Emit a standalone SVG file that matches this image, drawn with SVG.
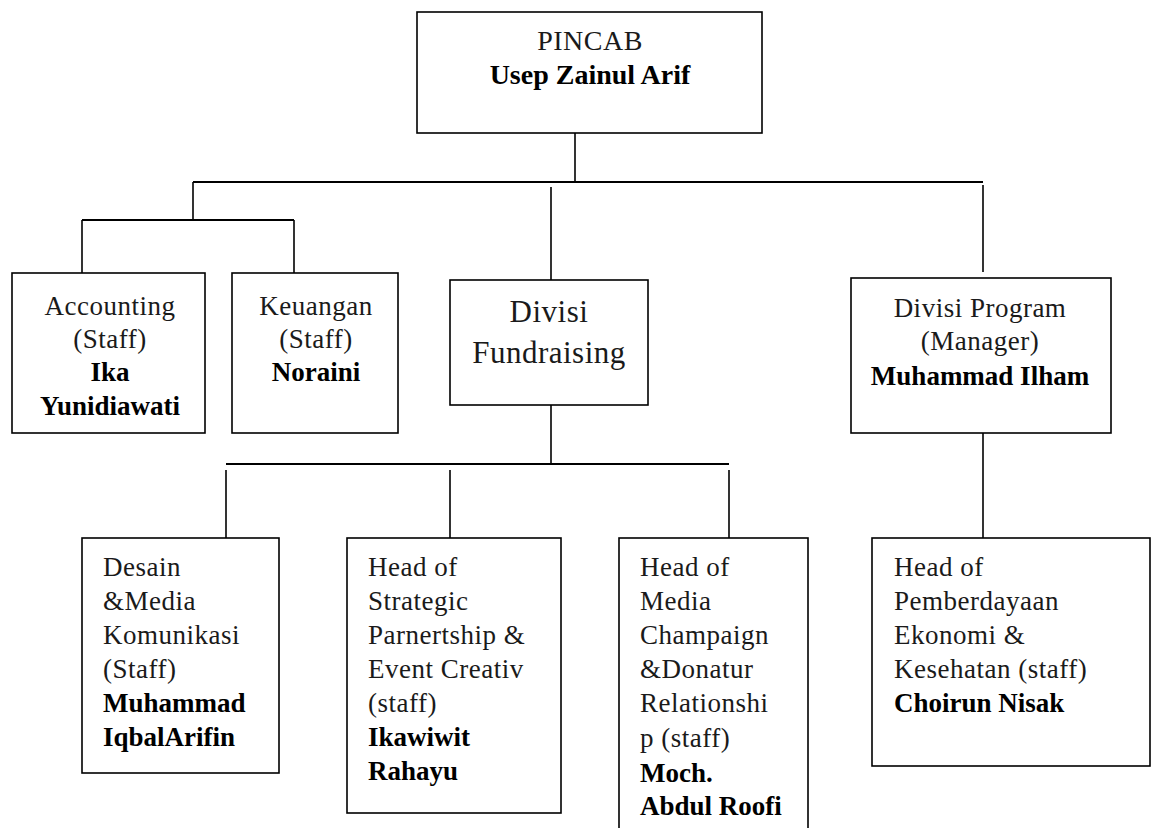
<svg xmlns="http://www.w3.org/2000/svg" width="1155" height="828" viewBox="0 0 1155 828">
<style>
.box{fill:#fff;stroke:#000;stroke-width:1.6}
.ln{stroke:#000;stroke-width:1.6;fill:none}
.hl{stroke:#000;stroke-width:2.2;fill:none}
text{font-family:"Liberation Serif","Times New Roman",serif;font-size:27px;fill:#1a1a1a;letter-spacing:0.5px}
.c{text-anchor:middle}
.nm{font-weight:bold;fill:#000;letter-spacing:0}
.big{font-size:31px}
</style>
<rect width="1155" height="828" fill="#fff"/>
<g id="connectors">
<line class="ln" x1="575" y1="133" x2="575" y2="182"/>
<line class="hl" x1="193" y1="182" x2="983" y2="182"/>
<line class="ln" x1="193" y1="182" x2="193" y2="220"/>
<line class="hl" x1="82" y1="220" x2="294" y2="220"/>
<line class="ln" x1="82" y1="220" x2="82" y2="273"/>
<line class="ln" x1="294" y1="220" x2="294" y2="273"/>
<line class="ln" x1="551" y1="187" x2="551" y2="280"/>
<line class="ln" x1="983" y1="185" x2="983" y2="272"/>
<line class="ln" x1="983" y1="433" x2="983" y2="538"/>
<line class="ln" x1="551" y1="405" x2="551" y2="464"/>
<line class="hl" x1="226" y1="464" x2="729" y2="464"/>
<line class="ln" x1="226" y1="470" x2="226" y2="538"/>
<line class="ln" x1="450" y1="470" x2="450" y2="538"/>
<line class="ln" x1="729" y1="470" x2="729" y2="538"/>
</g>
<g id="pincab">
<rect class="box" x="417" y="12" width="345" height="121"/>
<text class="c" x="590" y="50" style="font-size:28px">PINCAB</text>
<text class="c nm" x="590" y="84" style="font-size:28px">Usep Zainul Arif</text>
</g>
<g id="accounting">
<rect class="box" x="12" y="273" width="193" height="160"/>
<text class="c" x="110" y="315">Accounting</text>
<text class="c" x="110" y="348">(Staff)</text>
<text class="c nm" x="110" y="381">Ika</text>
<text class="c nm" x="110" y="415">Yunidiawati</text>
</g>
<g id="keuangan">
<rect class="box" x="232" y="273" width="166" height="160"/>
<text class="c" x="316" y="315">Keuangan</text>
<text class="c" x="316" y="348">(Staff)</text>
<text class="c nm" x="316" y="381">Noraini</text>
</g>
<g id="fundraising">
<rect class="box" x="450" y="280" width="198" height="125"/>
<text class="c big" x="549" y="322">Divisi</text>
<text class="c big" x="549" y="363">Fundraising</text>
</g>
<g id="program">
<rect class="box" x="851" y="278" width="260" height="155"/>
<text class="c" x="980" y="317">Divisi Program</text>
<text class="c" x="980" y="350">(Manager)</text>
<text class="c nm" x="980" y="385">Muhammad Ilham</text>
</g>
<g id="desain">
<rect class="box" x="82" y="538" width="197" height="235"/>
<text x="103" y="576">Desain</text>
<text x="103" y="610">&amp;Media</text>
<text x="103" y="644">Komunikasi</text>
<text x="103" y="678">(Staff)</text>
<text class="nm" x="103" y="712">Muhammad</text>
<text class="nm" x="103" y="746">IqbalArifin</text>
</g>
<g id="strategic">
<rect class="box" x="347" y="538" width="214" height="275"/>
<text x="368" y="576">Head of</text>
<text x="368" y="610">Strategic</text>
<text x="368" y="644">Parnertship &amp;</text>
<text x="368" y="678">Event Creativ</text>
<text x="368" y="712">(staff)</text>
<text class="nm" x="368" y="746">Ikawiwit</text>
<text class="nm" x="368" y="780">Rahayu</text>
</g>
<g id="media">
<rect class="box" x="619" y="538" width="189" height="310"/>
<text x="640" y="576">Head of</text>
<text x="640" y="610">Media</text>
<text x="640" y="644">Champaign</text>
<text x="640" y="678">&amp;Donatur</text>
<text x="640" y="712">Relationshi</text>
<text x="640" y="747">p (staff)</text>
<text class="nm" x="640" y="782">Moch.</text>
<text class="nm" x="640" y="815">Abdul Roofi</text>
</g>
<g id="pemberdayaan">
<rect class="box" x="872" y="538" width="278" height="228"/>
<text x="894" y="576">Head of</text>
<text x="894" y="610">Pemberdayaan</text>
<text x="894" y="644">Ekonomi &amp;</text>
<text x="894" y="678">Kesehatan (staff)</text>
<text class="nm" x="894" y="712">Choirun Nisak</text>
</g>
</svg>
